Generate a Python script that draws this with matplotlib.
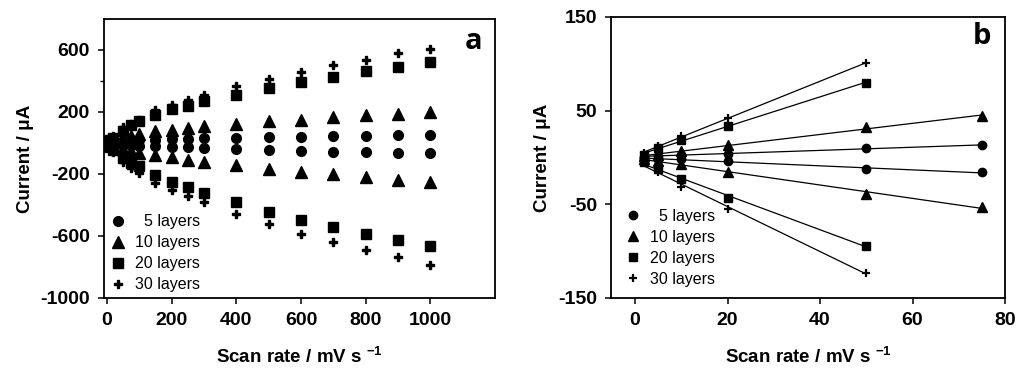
import numpy as np
import matplotlib
matplotlib.use("Agg")
import matplotlib.pyplot as plt
from matplotlib.ticker import FixedLocator

# ---------------- data ----------------
xa = [2, 5, 10, 20, 50, 75, 100, 150, 200, 250, 300, 400, 500, 600, 700, 800, 900, 1000]
a5_up = [1, 1.5, 3, 4, 10, 13, 17, 22, 25, 28, 30, 32, 36, 38, 43, 45, 49, 51]
a5_dn = [-1, -1.5, -2, -4, -12, -16, -18, -22, -26, -28, -30, -39, -44, -54, -56, -58, -63, -67]
a10_up = [2, 3, 7, 13, 33, 44, 60, 75, 86, 97, 107, 124, 140, 150, 165, 178, 189, 200]
a10_dn = [-2, -4, -7, -15, -39, -52, -63, -75, -90, -108, -125, -144, -168, -187, -202, -219, -237, -252]
a20_up = [3, 10, 18, 34, 80, 113, 140, 178, 219, 241, 269, 312, 355, 393, 428, 462, 492, 522]
a20_dn = [-5, -13, -23, -43, -94, -127, -151, -205, -252, -286, -323, -383, -443, -495, -542, -587, -628, -667]
a30_up = [5, 12, 23, 42, 101, 124, 150, 210, 247, 279, 312, 365, 413, 458, 501, 537, 578, 608]
a30_dn = [-6, -16, -31, -55, -123, -161, -194, -258, -301, -344, -383, -456, -521, -585, -639, -688, -738, -785]

xb = [2, 5, 10, 20, 50, 75]
b5_up = [1, 1.5, 3, 4, 10, 13]
b5_dn = [-1, -1.5, -2, -4, -12, -16]
b10_up = [2, 3, 6.7, 13, 32.6, 44]
b10_dn = [-2, -4, -7.4, -15.2, -39.4, -52.5]
b20_up = [3, 10, 18.4, 34, 80]
b20_dn = [-5, -12.8, -23.4, -43, -94.3]
b30_up = [5, 12, 22.7, 42, 101]
b30_dn = [-5.7, -16, -31, -55, -123]

labels = ["  5 layers", "10 layers", "20 layers", "30 layers"]

# ---------------- style ----------------
plt.rcParams['font.family'] = ['Liberation Sans', 'DejaVu Sans']
plt.rcParams['axes.unicode_minus'] = False
plt.rcParams['mathtext.fontset'] = 'custom'
plt.rcParams['mathtext.rm'] = 'Liberation Sans:bold'
plt.rcParams['mathtext.it'] = 'Liberation Sans:bold'
plt.rcParams['mathtext.bf'] = 'Liberation Sans:bold'

fig = plt.figure(figsize=(10.24, 3.76), dpi=100)
axA = fig.add_axes([104/1024, 1-298/376, (495-104)/1024, (298-19)/376])
axB = fig.add_axes([611/1024, 1-298/376, (1005-611)/1024, (298-17)/376])

tick_fs = 14
lab_fs = 13.5
leg_fs = 11.5

def style(ax):
    for s in ax.spines.values():
        s.set_linewidth(1.3)
        s.set_color('black')
    ax.tick_params(axis='both', which='major', direction='out', length=4, width=1.1,
                   labelsize=tick_fs, pad=6)
    ax.tick_params(axis='both', which='minor', direction='out', length=3, width=1.0)
    for t in ax.get_xticklabels() + ax.get_yticklabels():
        t.set_fontweight('bold')
    ax.set_xlabel(r'Scan rate / mV s $^{\mathbf{-1}}$', fontsize=lab_fs, fontweight='bold',
                  labelpad=13)
    ax.set_ylabel('Current / \u03bcA', fontsize=lab_fs, fontweight='bold', labelpad=5)

# ---------------- panel a ----------------
mk_a = dict(color='black', linestyle='none')
axA.plot(xa, a5_up, marker='o', ms=7, **mk_a, label=labels[0])
axA.plot(xa, a5_dn, marker='o', ms=7, **mk_a)
axA.plot(xa, a10_up, marker='^', ms=8, **mk_a, label=labels[1])
axA.plot(xa, a10_dn, marker='^', ms=8, **mk_a)
axA.plot(xa, a20_up, marker='s', ms=6.5, **mk_a, label=labels[2])
axA.plot(xa, a20_dn, marker='s', ms=6.5, **mk_a)
axA.plot(xa, a30_up, marker='P', ms=5.5, **mk_a, label=labels[3])
axA.plot(xa, a30_dn, marker='P', ms=5.5, **mk_a)
axA.set_xlim(-9, 1200)
axA.set_ylim(-1000, 800)
axA.set_xticks([0, 200, 400, 600, 800, 1000])
axA.set_yticks([-1000, -600, -200, 200, 600])
axA.yaxis.set_minor_locator(FixedLocator([400]))
style(axA)
axA.legend(loc='lower left', bbox_to_anchor=(0.015, 0.02), frameon=False, fontsize=leg_fs,
           handlelength=1.0, handletextpad=0.55, labelspacing=0.38, borderpad=0,
           borderaxespad=0, numpoints=1)
axA.text(0.944, 0.918, 'a', transform=axA.transAxes, ha='center', va='center',
         fontsize=21, fontweight='bold', family='Open Sans')

# ---------------- panel b ----------------
def fitline(ax, x, y):
    p = np.polyfit(x, y, 1)
    xs = np.array([min(x), max(x)])
    ax.plot(xs, np.polyval(p, xs), color='black', lw=0.9)

series_b = [(xb, b5_up, 'o', 6), (xb, b5_dn, 'o', 6),
            (xb, b10_up, '^', 7), (xb, b10_dn, '^', 7),
            (xb[:5], b20_up, 's', 5.5), (xb[:5], b20_dn, 's', 5.5),
            (xb[:5], b30_up, '+', 6), (xb[:5], b30_dn, '+', 6)]
for i, (x, y, m, s) in enumerate(series_b):
    fitline(axB, x, y)
    lab = labels[i // 2] if i % 2 == 0 else None
    axB.plot(x, y, marker=m, ms=s, mew=1.6 if m == '+' else 1.0, color='black',
             linestyle='none', label=lab)
axB.set_xlim(-5.2, 80)
axB.set_ylim(-150, 150)
axB.set_xticks([0, 20, 40, 60, 80])
axB.set_yticks([-150, -50, 50, 150])
style(axB)
axB.legend(loc='lower left', bbox_to_anchor=(0.036, 0.04), frameon=False, fontsize=leg_fs,
           handlelength=1.0, handletextpad=0.55, labelspacing=0.38, borderpad=0,
           borderaxespad=0, numpoints=1)
axB.text(0.942, 0.929, 'b', transform=axB.transAxes, ha='center', va='center',
         fontsize=21, fontweight='bold', family='Open Sans')

fig.savefig('out.png', dpi=100)
